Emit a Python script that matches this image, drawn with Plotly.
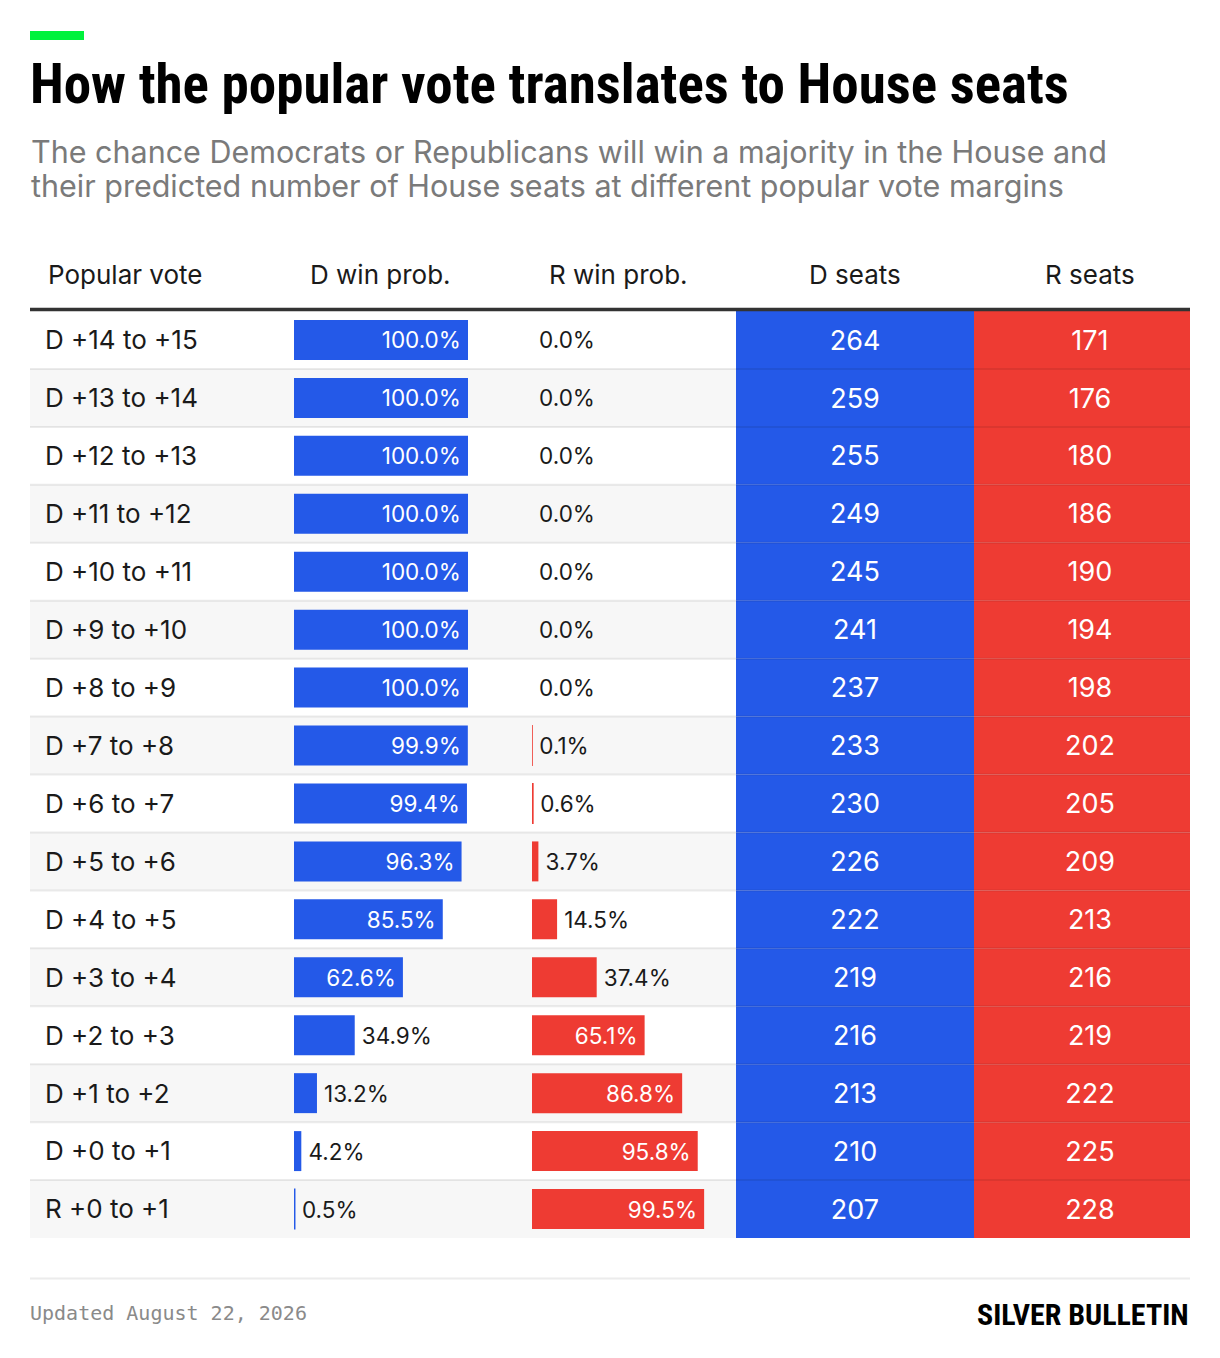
import plotly.graph_objects as go

# ---- data -------------------------------------------------------------
popular_vote = [
    "D +14 to +15", "D +13 to +14", "D +12 to +13", "D +11 to +12",
    "D +10 to +11", "D +9 to +10", "D +8 to +9", "D +7 to +8",
    "D +6 to +7", "D +5 to +6", "D +4 to +5", "D +3 to +4",
    "D +2 to +3", "D +1 to +2", "D +0 to +1", "R +0 to +1",
]
d_win_prob = [100.0, 100.0, 100.0, 100.0, 100.0, 100.0, 100.0, 99.9,
              99.4, 96.3, 85.5, 62.6, 34.9, 13.2, 4.2, 0.5]
r_win_prob = [0.0, 0.0, 0.0, 0.0, 0.0, 0.0, 0.0, 0.1,
              0.6, 3.7, 14.5, 37.4, 65.1, 86.8, 95.8, 99.5]
d_seats = [264, 259, 255, 249, 245, 241, 237, 233,
           230, 226, 222, 219, 216, 213, 210, 207]
r_seats = [171, 176, 180, 186, 190, 194, 198, 202,
           205, 209, 213, 216, 219, 222, 225, 228]
column_headers = ["Popular vote", "D win prob.", "R win prob.", "D seats", "R seats"]

TITLE = "How the popular vote translates to House seats"
SUBTITLE = [
    "The chance Democrats or Republicans will win a majority in the House and",
    "their predicted number of House seats at different popular vote margins",
]
UPDATED = "Updated August 22, 2026"
BRAND = "SILVER BULLETIN"

# ---- style ------------------------------------------------------------
W, H = 1220, 1358
OFFSET = 8  # page body margin
BLUE = "#2459e8"
RED = "#ee3b33"
STRIPE = "#f7f7f7"
BODY = "Inter, Roboto, sans-serif"
NARROW = "Liberation Sans Narrow, Roboto Condensed, DejaVu Sans Condensed, sans-serif"
MONO = "DejaVu Sans Mono, Liberation Mono, monospace"
TEXT_NUDGE = 0.05  # scatter text sits a touch high; push it down (row units)
THIN = "\u2009"     # a little breathing room between bar end and its label


def px(x):
    return (x - OFFSET) / W


def py(y):
    return 1 - (y - OFFSET) / H


n = len(popular_vote)
rows = list(range(n))
text_rows = [r + TEXT_NUDGE for r in rows]
table_top, table_bottom = 311, 1238
left, right = 30, 1190

fig = go.Figure()

# row striping + popular vote labels
fig.add_trace(go.Bar(
    x=[1] * n, y=rows, orientation="h", width=1,
    marker=dict(color=["white" if i % 2 == 0 else STRIPE for i in rows], line_width=0),
    xaxis="x", yaxis="y", hoverinfo="skip", showlegend=False,
))
fig.add_trace(go.Scatter(
    x=[(45 - left) / (right - left)] * n, y=text_rows, text=popular_vote,
    mode="text", textposition="middle right",
    textfont=dict(family=BODY, size=26, color="#1a1a1a"),
    xaxis="x", yaxis="y", hoverinfo="skip", showlegend=False, cliponaxis=False,
))


def prob_bars(values, color, axis):
    inside = [v > 50 for v in values]
    labels = [f"{v:.1f}%{THIN}" if ins else f"{THIN}{v:.1f}%" for v, ins in zip(values, inside)]
    return go.Bar(
        x=values, y=rows, orientation="h", width=0.69,
        marker=dict(color=color,
                    line=dict(color=color, width=[1.2 if 0 < v < 1 else 0 for v in values])),
        text=labels, textposition=["inside" if ins else "outside" for ins in inside],
        insidetextanchor="end",
        insidetextfont=dict(family=BODY, size=22.5, color="white"),
        outsidetextfont=dict(family=BODY, size=22.5, color="#1a1a1a"),
        cliponaxis=False, xaxis=axis, yaxis="y",
        hoverinfo="skip", showlegend=False,
    )


fig.add_trace(prob_bars(d_win_prob, BLUE, "x2"))
fig.add_trace(prob_bars(r_win_prob, RED, "x3"))


def seat_cells(values, color, axis, text_x):
    cells = go.Bar(
        x=[1] * n, y=rows, orientation="h", width=1,
        marker=dict(color=color, line_width=0),
        xaxis=axis, yaxis="y", hoverinfo="skip", showlegend=False,
    )
    labels = go.Scatter(
        x=[text_x] * n, y=text_rows, text=[str(v) for v in values],
        mode="text", textposition="middle center",
        textfont=dict(family=BODY, size=27, color="white"),
        xaxis=axis, yaxis="y", hoverinfo="skip", showlegend=False, cliponaxis=False,
    )
    return [cells, labels]


fig.add_traces(seat_cells(d_seats, BLUE, "x4", 0.5))
fig.add_traces(seat_cells(r_seats, RED, "x5", 0.537))

# ---- layout -----------------------------------------------------------
hidden = dict(visible=False, fixedrange=True)
fig.update_layout(
    width=W, height=H,
    margin=dict(l=0, r=0, t=0, b=0),
    paper_bgcolor="white", plot_bgcolor="rgba(0,0,0,0)",
    barmode="overlay", showlegend=False,
    xaxis=dict(domain=[px(left), px(right)], range=[0, 1], anchor="y", **hidden),
    xaxis2=dict(domain=[px(294), px(468)], range=[0, 100], anchor="y", **hidden),
    xaxis3=dict(domain=[px(532), px(705)], range=[0, 100], anchor="y", **hidden),
    xaxis4=dict(domain=[px(736), px(974)], range=[0, 1], anchor="y", **hidden),
    xaxis5=dict(domain=[px(974), px(right)], range=[0, 1], anchor="y", **hidden),
    yaxis=dict(domain=[py(table_bottom), py(table_top)],
               range=[n - 0.5, -0.5], **hidden),
)

shapes = [
    # green accent
    dict(type="rect", xref="paper", yref="paper", x0=px(30), x1=px(84), y0=py(40), y1=py(31),
         fillcolor="#00f23c", line_width=0),
    # header rule
    dict(type="line", xref="paper", yref="paper", x0=px(left), x1=px(right), y0=py(309.5), y1=py(309.5),
         line=dict(color="#333333", width=3.5)),
    # footer rule
    dict(type="line", xref="paper", yref="paper", x0=px(left), x1=px(right), y0=py(1278.5), y1=py(1278.5),
         line=dict(color="#ececec", width=2)),
]
for i in rows[:-1]:
    shapes.append(dict(type="line", xref="paper", yref="y", layer="above",
                       x0=px(left), x1=px(right), y0=i + 0.5, y1=i + 0.5,
                       line=dict(color="rgba(0,0,0,0.08)", width=2)))
fig.update_layout(shapes=shapes)

ann = [
    dict(text=f"<b>{TITLE}</b>", x=px(28), y=py(84), xanchor="left", yanchor="middle",
         font=dict(family=NARROW, size=55, color="black")),
    dict(text=SUBTITLE[0], x=px(29), y=py(152), xanchor="left", yanchor="middle",
         font=dict(family=BODY, size=30.5, color="#7a7a7a")),
    dict(text=SUBTITLE[1], x=px(29), y=py(186), xanchor="left", yanchor="middle",
         font=dict(family=BODY, size=30.5, color="#7a7a7a")),
    dict(text=UPDATED, x=px(28), y=py(1313), xanchor="left", yanchor="middle",
         font=dict(family=MONO, size=20, color="#8a8a8a")),
    dict(text=f"<b>{BRAND}</b>", x=px(1191), y=py(1314), xanchor="right", yanchor="middle",
         font=dict(family=NARROW, size=30, color="black")),
]
header_x = [46, 381, 618, 855, 1090]
for label, hx in zip(column_headers, header_x):
    ann.append(dict(text=label, x=px(hx), y=py(275), yanchor="middle",
                    xanchor="left" if hx == header_x[0] else "center",
                    font=dict(family=BODY, size=26, color="#1a1a1a")))
for a in ann:
    a.update(xref="paper", yref="paper", showarrow=False)
fig.update_layout(annotations=ann)

fig.write_html("out.html")
